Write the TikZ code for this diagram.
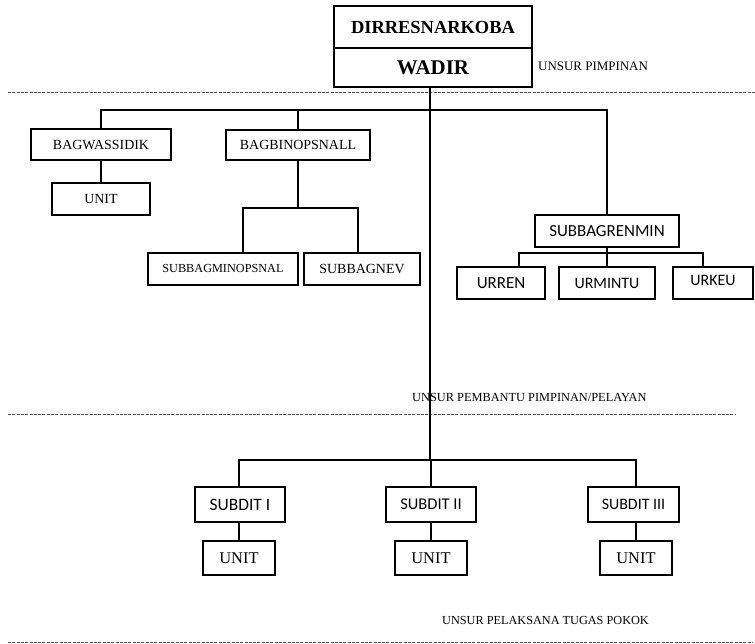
\documentclass[tikz,border=0pt]{standalone}
\usepackage{fontspec}
\setmainfont{Liberation Serif}
\newfontfamily\calibfont{Carlito}
\tikzset{
  box/.style={draw, line width=1.6bp, inner sep=0pt, align=center},
  conn/.style={line width=1.6bp},
  sepline/.style={line width=0.9bp, black!70, dash pattern=on 3bp off 1.3bp},
  lbl/.style={inner sep=0pt, anchor=west},
  serifA/.style={font=\fontsize{14}{16}\selectfont},
  sansA/.style={font=\calibfont\fontsize{17}{19}\selectfont},
}
\begin{document}
\begin{tikzpicture}[x=1bp,y=-1bp]
\useasboundingbox (0,0) rectangle (755,644);

% separator lines and section labels
\draw[sepline] (8,92) -- (755,92);
\draw[sepline] (8,414) -- (735,414);
\draw[sepline] (8,642) -- (753,642);
\node[lbl, font=\fontsize{13}{15}\selectfont] (lp) at (538,66) {UNSUR PIMPINAN};
\node[lbl, font=\fontsize{12.4}{14}\selectfont] (lb) at (412,397) {UNSUR PEMBANTU PIMPINAN/PELAYAN};
\node[lbl, font=\fontsize{12.3}{14}\selectfont] (lt) at (442,620) {UNSUR PELAKSANA TUGAS POKOK};

% top box
\node[box, minimum width=198bp, minimum height=42bp, font=\fontsize{18.5}{20}\selectfont\bfseries] (dir) at (433,27) {DIRRESNARKOBA};
\node[box, minimum width=198bp, minimum height=39bp, font=\fontsize{21}{23}\selectfont\bfseries] (wadir) at (433,67.5) {WADIR};

% staff level
\node[box, serifA, minimum width=140bp, minimum height=31bp] (bagw) at (101,144.5) {BAGWASSIDIK};
\node[box, serifA, minimum width=98bp, minimum height=32bp] (unit0) at (101,199) {UNIT};
\node[box, serifA, minimum width=144bp, minimum height=30bp] (bagb) at (298,145) {BAGBINOPSNALL};
\node[box, font=\fontsize{12.3}{14}\selectfont, minimum width=150bp, minimum height=32bp] (minops) at (223,269) {SUBBAGMINOPSNAL};
\node[box, serifA, minimum width=116bp, minimum height=32bp] (nev) at (362,269) {SUBBAGNEV};
\node[box, sansA, minimum width=144bp, minimum height=32bp] (renmin) at (607,231) {SUBBAGRENMIN};
\node[box, sansA, minimum width=88bp, minimum height=32bp] (urren) at (501,283) {URREN};
\node[box, font=\calibfont\fontsize{16}{18}\selectfont, minimum width=96bp, minimum height=32bp] (urmintu) at (607,283) {URMINTU};
\node[box, font=\calibfont\fontsize{16}{18}\selectfont, minimum width=80bp, minimum height=32bp, text depth=6bp] (urkeu) at (713,283) {URKEU};

% operational level
\node[box, font=\calibfont\fontsize{17.5}{19}\selectfont, minimum width=90bp, minimum height=35bp] (sub1) at (240,504.5) {SUBDIT I};
\node[box, font=\calibfont\fontsize{16.5}{19}\selectfont, minimum width=90bp, minimum height=35bp] (sub2) at (431,504.5) {SUBDIT II};
\node[box, font=\calibfont\fontsize{16}{18}\selectfont, minimum width=91bp, minimum height=35bp] (sub3) at (633.5,504.5) {SUBDIT III};
\node[box, font=\fontsize{16.5}{18}\selectfont, minimum width=72bp, minimum height=34bp] (unit1) at (239,558) {UNIT};
\node[box, font=\fontsize{16.5}{18}\selectfont, minimum width=72bp, minimum height=34bp] (unit2) at (431,558) {UNIT};
\node[box, font=\fontsize{16.5}{18}\selectfont, minimum width=72bp, minimum height=34bp] (unit3) at (636,558) {UNIT};

% connectors
\coordinate (s1) at (430,110);
\coordinate (s2) at (431,460);
\coordinate (j1) at (298,208);
\coordinate (r1) at (607,253);
\draw[conn] (wadir.south -| s1) -- (s2 -| s1);
\draw[conn] (bagw.north) -- (bagw.north |- s1) -- (renmin.north |- s1) -- (renmin.north);
\draw[conn] (bagb.north) -- (bagb.north |- s1);
\draw[conn] (bagw.south) -- (unit0.north);
\draw[conn] (bagb.south) -- (j1);
\draw[conn] ([xshift=20bp]minops.north) |- (j1) -| ([xshift=-4bp]nev.north);
\draw[conn] (renmin.south) -- (urmintu.north);
\draw[conn] ([xshift=18bp]urren.north) |- (r1) -| ([xshift=-10bp]urkeu.north);
\draw[conn] (sub1.north -| unit1.north) |- (s2) -| (sub3.north -| unit3.north);
\draw[conn] (s2) -- (sub2.north);
\draw[conn] (sub1.south -| unit1.north) -- (unit1.north);
\draw[conn] (sub2.south) -- (unit2.north);
\draw[conn] (sub3.south -| unit3.north) -- (unit3.north);
\end{tikzpicture}
\end{document}
